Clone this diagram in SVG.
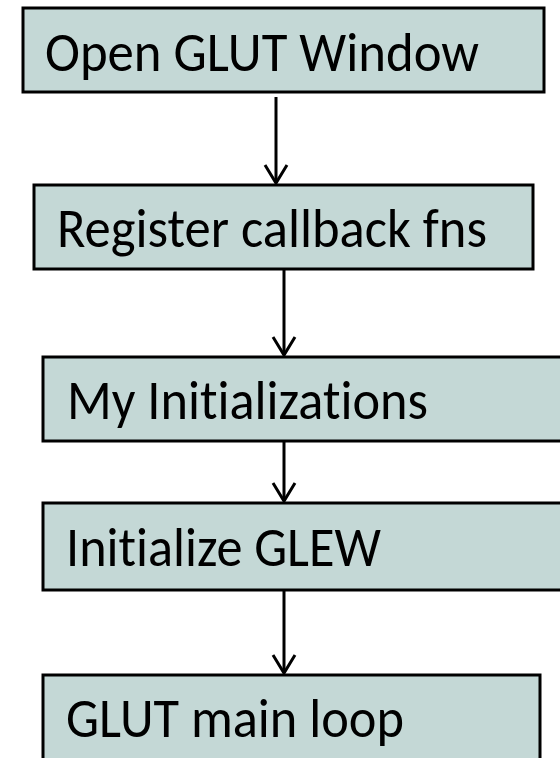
<svg xmlns="http://www.w3.org/2000/svg" width="560" height="758" viewBox="0 0 560 758">
  <defs>
    <style>
      .box { fill: #C4D8D6; stroke: #000000; stroke-width: 3; }
      .lbl { font-family: "Carlito", "Lato", "Liberation Sans", sans-serif; font-size: 55px; fill: #000000; font-variant-ligatures: none; font-feature-settings: "liga" 0; }
      .conn { stroke: #000000; stroke-width: 3; fill: none; }
    </style>
    <marker id="arrow" viewBox="-20 -13 24 26" markerUnits="userSpaceOnUse" markerWidth="24" markerHeight="26" refX="0" refY="0" orient="auto">
      <path d="M-18,-11 L0,0 L-18,11" fill="none" stroke="#000000" stroke-width="3" stroke-linejoin="miter"/>
    </marker>
  </defs>
  <rect width="560" height="758" fill="#FFFFFF"/>

  <g id="node-open-glut-window">
    <rect class="box" x="23" y="8" width="521" height="84"/>
    <text class="lbl" x="45" y="71" textLength="434" lengthAdjust="spacingAndGlyphs">Open GLUT Window</text>
  </g>

  <g id="node-register-callback">
    <rect class="box" x="34" y="185" width="499" height="84"/>
    <text class="lbl" x="57" y="247" textLength="430" lengthAdjust="spacingAndGlyphs">Register callback fns</text>
  </g>

  <g id="node-my-initializations">
    <rect class="box" x="43" y="357" width="530" height="84"/>
    <text class="lbl" x="67" y="419" textLength="361" lengthAdjust="spacingAndGlyphs">My Initializations</text>
  </g>

  <g id="node-initialize-glew">
    <rect class="box" x="43" y="503" width="530" height="87"/>
    <text class="lbl" x="66" y="566" textLength="315" lengthAdjust="spacingAndGlyphs">Initialize GLEW</text>
  </g>

  <g id="node-glut-main-loop">
    <rect class="box" x="43" y="675" width="497" height="100"/>
    <text class="lbl" x="66" y="737" textLength="338" lengthAdjust="spacingAndGlyphs">GLUT main loop</text>
  </g>

  <g id="connectors">
    <line class="conn" x1="276" y1="97" x2="276" y2="183" marker-end="url(#arrow)"/>
    <line class="conn" x1="284" y1="270" x2="284" y2="355" marker-end="url(#arrow)"/>
    <line class="conn" x1="284" y1="441" x2="284" y2="501" marker-end="url(#arrow)"/>
    <line class="conn" x1="284" y1="590" x2="284" y2="673" marker-end="url(#arrow)"/>
  </g>
</svg>
